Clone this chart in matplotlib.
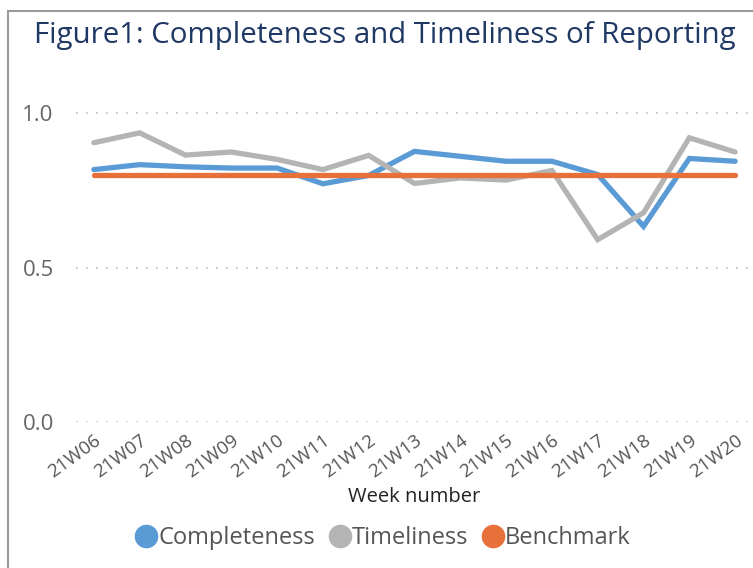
import matplotlib.pyplot as plt
from matplotlib.lines import Line2D

# --- data ---
weeks = ['21W06', '21W07', '21W08', '21W09', '21W10', '21W11', '21W12', '21W13',
         '21W14', '21W15', '21W16', '21W17', '21W18', '21W19', '21W20']
completeness = [0.818, 0.834, 0.827, 0.823, 0.823, 0.772, 0.799, 0.877,
                0.861, 0.845, 0.845, 0.802, 0.634, 0.854, 0.845]
timeliness = [0.905, 0.937, 0.865, 0.875, 0.851, 0.818, 0.864, 0.773,
              0.791, 0.784, 0.815, 0.591, 0.678, 0.921, 0.875]
benchmark = [0.80] * len(weeks)

BLUE = '#5B9BD5'
GREY = '#B4B4B4'
ORANGE = '#E8703A'
NAVY = '#1F3864'

plt.rcParams['font.family'] = ['Open Sans', 'DejaVu Sans']

W, H = 753, 568
fig = plt.figure(figsize=(W / 100, H / 100), dpi=100)

# frame lines (top and left) like the screenshot
fig.add_artist(Line2D([8 / W, 8 / W], [0, 1 - 11 / H], color='#9A9A9A', lw=1.5))
fig.add_artist(Line2D([8 / W, 1], [1 - 11 / H, 1 - 11 / H], color='#9A9A9A', lw=1.5))

fig.text(34 / W, 1 - 35 / H, 'Figure1: Completeness and Timeliness of Reporting',
         color=NAVY, fontsize=21.2, va='center', ha='left')

# axes placement in pixels
left, right = 76, 753
bottom, top = 422, 98
ax = fig.add_axes([left / W, 1 - bottom / H, (right - left) / W, (bottom - top) / H])

x = list(range(len(weeks)))
ax.plot(x, completeness, color=BLUE, lw=3.8, solid_capstyle='round', solid_joinstyle='miter')
ax.plot(x, timeliness, color=GREY, lw=3.8, solid_capstyle='round', solid_joinstyle='miter')
ax.plot(x, benchmark, color=ORANGE, lw=3.8, solid_capstyle='round')

ax.set_xlim(-0.39, 14.39)
ax.set_ylim(0, 1.05)
ax.set_yticks([0.0, 0.5, 1.0])
ax.set_yticklabels(['0.0', '0.5', '1.0'])
ax.set_xticks(x)
ax.set_xticklabels(weeks, rotation=36, ha='right', rotation_mode='anchor')

for v in [0.0, 0.5, 1.0]:
    ax.axhline(v, color='#BDBDBD', lw=1.2, ls=(0, (1, 5)), zorder=0)

for s in ax.spines.values():
    s.set_visible(False)
ax.tick_params(axis='both', length=0)
ax.tick_params(axis='y', labelsize=16, colors='#666666', pad=16)
ax.tick_params(axis='x', labelsize=13.5, colors='#555555', pad=7)

ax.set_xlabel('Week number', fontsize=14.5, color='#222222', labelpad=4)

handles = [Line2D([], [], marker='o', ls='', color=c, markersize=16)
           for c in (BLUE, GREY, ORANGE)]
leg = fig.legend(handles, ['Completeness', 'Timeliness', 'Benchmark'],
                 loc='center', bbox_to_anchor=(383 / W, 1 - 538 / H), ncol=3,
                 frameon=False, fontsize=17, handletextpad=0.05, columnspacing=0.6,
                 handlelength=0.9)
for t in leg.get_texts():
    t.set_color('#555555')

fig.savefig('out.png', dpi=100)
